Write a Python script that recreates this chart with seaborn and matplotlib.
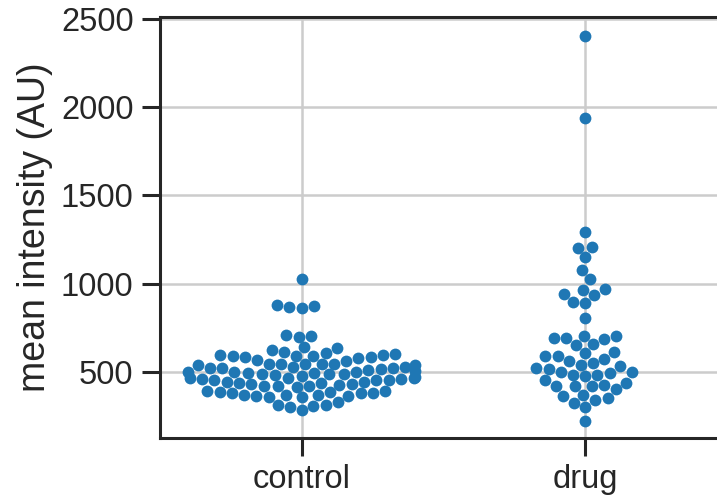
import pandas as pd
import matplotlib
matplotlib.use("Agg")
import matplotlib.pyplot as plt
import seaborn as sns

control = [1028, 870, 865, 862, 880, 708, 705, 700,
           635, 640,
           590, 588, 568, 594, 578, 582, 606, 592, 596, 625, 564, 584, 601, 610, 547,
           538, 528, 519, 500, 498, 543, 537, 519, 524, 547, 504, 542, 543, 492, 515,
           513, 487, 525, 496, 497,
           464, 458, 459, 451, 436, 432, 487, 477, 465, 468, 445, 483, 430, 426, 452,
           444, 437, 455, 466, 486,
           392, 388, 379, 369, 366, 417, 360, 421, 364, 416, 418, 363, 383, 370, 378,
           382, 391,
           312, 303, 284, 355, 307, 313, 331]

drug = [2405, 1937, 1294, 1203, 1205, 1150, 1076, 1023, 966, 968, 937, 940, 894, 892, 805,
        693, 693, 688, 704, 704,
        650, 657, 615, 606,
        587, 587, 572, 559, 536, 549,
        521, 515, 496, 483, 474, 483, 498, 498, 534,
        451, 426, 417, 402, 417, 417, 439,
        369, 364, 326, 303, 341, 350,
        222]

groups = ["control", "drug"]

df = pd.DataFrame({
    "group": ["control"] * len(control) + ["drug"] * len(drug),
    "intensity": control + drug,
})

sns.set_theme(style="ticks", rc={"axes.grid": True, "grid.color": "#cccccc",
                                  "grid.linewidth": 1.8})
plt.rcParams["font.family"] = ["Liberation Sans", "DejaVu Sans"]

fig = plt.figure(figsize=(7.17, 4.97), dpi=100)
ax = fig.add_axes([160 / 717, 1 - 438 / 497, (727 - 160) / 717, (438 - 17) / 497])

sns.swarmplot(data=df, x="group", y="intensity", order=groups, color="#1f77b4",
              size=8.5, ax=ax)

ax.set_ylim(125, 2510)
ax.set_yticks([500, 1000, 1500, 2000, 2500])
ax.grid(True, axis="both")
ax.set_axisbelow(True)
ax.set_xlabel("")
ax.set_ylabel("mean intensity (AU)", fontsize=27, labelpad=6)
ax.tick_params(labelsize=23.5, length=13, width=2.2, color="#262626", pad=6)
for s in ax.spines.values():
    s.set_linewidth(2.2)
    s.set_color("#262626")

fig.savefig("out.png", dpi=100)
